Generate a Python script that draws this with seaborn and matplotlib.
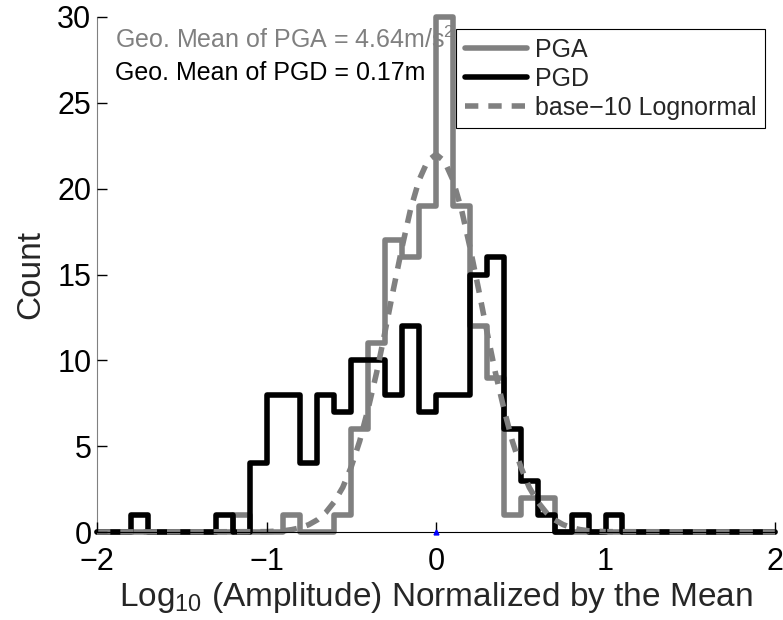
import numpy as np
import pandas as pd
import matplotlib
matplotlib.use('Agg')
import matplotlib.pyplot as plt
import seaborn as sns
from matplotlib.lines import Line2D

# bin edges (log10 amplitude / mean), 0.1 wide from -2 to 2
edges = [round(-2.0 + 0.1 * i, 2) for i in range(41)]
centers = [round(-1.95 + 0.1 * i, 3) for i in range(40)]

# counts per bin (40 bins)
pga_counts = [0, 0, 0, 0, 0, 0, 0, 0, 1, 0,
              0, 1, 0, 0, 1, 6, 11, 17, 16, 19,
              30, 19, 12, 9, 1, 2, 2, 0, 0, 0,
              0, 0, 0, 0, 0, 0, 0, 0, 0, 0]
pgd_counts = [0, 0, 1, 0, 0, 0, 0, 1, 0, 4,
              8, 8, 4, 8, 7, 10, 10, 8, 12, 7,
              8, 8, 15, 16, 6, 3, 1, 0, 1, 0,
              1, 0, 0, 0, 0, 0, 0, 0, 0, 0]

# dashed base-10 lognormal curve
fit_x = [-2.0, -1.0, -0.9, -0.85, -0.8, -0.75, -0.7, -0.65, -0.6, -0.55, -0.5,
         -0.45, -0.4, -0.35, -0.3, -0.25, -0.2, -0.15, -0.1, -0.05, 0.0,
         0.05, 0.1, 0.15, 0.2, 0.25, 0.3, 0.35, 0.4, 0.45, 0.5,
         0.55, 0.6, 0.65, 0.7, 0.75, 0.8, 0.85, 0.9, 1.0, 2.0]
fit_y = [0.0, 0.02, 0.07, 0.14, 0.25, 0.43, 0.71, 1.14, 1.76, 2.6, 3.8,
         5.3, 7.2, 9.3, 11.7, 14.2, 16.6, 18.8, 20.5, 21.6, 22.0,
         21.6, 20.5, 18.8, 16.6, 14.2, 11.7, 9.3, 7.2, 5.3, 3.8,
         2.6, 1.76, 1.14, 0.71, 0.43, 0.25, 0.14, 0.07, 0.02, 0.0]

labels = ['PGA', 'PGD', 'base\u221210 Lognormal']
txt_pga = 'Geo. Mean of PGA = 4.64m/s$^{2}$'
txt_pgd = 'Geo. Mean of PGD = 0.17m'

gray = '#808080'

sns.set_theme(style='white')
plt.rcParams.update({
    'font.family': ['Liberation Sans', 'DejaVu Sans'],
    'mathtext.fontset': 'custom',
    'mathtext.rm': 'Liberation Sans',
    'mathtext.it': 'Liberation Sans:italic',
    'mathtext.bf': 'Liberation Sans:bold',
    'xtick.bottom': True, 'ytick.left': True,
    'xtick.direction': 'in', 'ytick.direction': 'in',
    'xtick.major.size': 7, 'ytick.major.size': 7,
    'xtick.major.width': 1.0, 'ytick.major.width': 1.0,
    'xtick.color': 'black', 'ytick.color': 'black',
})

fig = plt.figure(figsize=(7.83, 6.2), dpi=100)
ax = fig.add_axes([97/783, 88/620, 678/783, 515/620])
ax.set_axisbelow(False)

df = pd.DataFrame({'x': centers, 'PGA': pga_counts, 'PGD': pgd_counts})

sns.histplot(x=df['x'], weights=df['PGA'], bins=edges, element='step', fill=False,
             color=gray, linewidth=4, ax=ax, clip_on=False)
sns.histplot(x=df['x'], weights=df['PGD'], bins=edges, element='step', fill=False,
             color='black', linewidth=4, ax=ax, clip_on=False)
sns.lineplot(x=fit_x, y=fit_y, color=gray, linewidth=4, linestyle=(0, (2.4, 1.8)),
             ax=ax, clip_on=False)
ax.plot([0], [0], marker='^', color='blue', markersize=3.5, clip_on=False, zorder=5)

ax.set_xlim(-2, 2)
ax.set_ylim(0, 30)
ax.set_xticks([-2, -1, 0, 1, 2])
ax.set_yticks([0, 5, 10, 15, 20, 25, 30])
ax.tick_params(labelsize=22, labelcolor='black')
ax.tick_params(axis='x', pad=11)
ax.tick_params(axis='y', pad=4)

for s in ['top', 'right']:
    ax.spines[s].set_visible(False)
ax.spines['left'].set_color(gray)
ax.spines['left'].set_linewidth(0.8)
ax.spines['bottom'].set_color('black')
ax.spines['bottom'].set_linewidth(0.8)

ax.set_xlabel('Log$_{\\mathrm{10}}$ (Amplitude) Normalized by the Mean', fontsize=24, labelpad=2)
ax.set_ylabel('Count', fontsize=24, labelpad=8)

ax.text(-1.894, 28.2, txt_pga, color=gray, fontsize=18, zorder=1)
ax.text(-1.894, 26.33, txt_pgd, color='black', fontsize=18, zorder=1)

handles = [Line2D([], [], color=gray, lw=4),
           Line2D([], [], color='black', lw=4),
           Line2D([], [], color=gray, lw=4, linestyle=(0, (2.4, 1.8)))]
leg = ax.legend(handles, labels, loc='upper right', bbox_to_anchor=(0.985, 0.977),
                borderaxespad=0, fontsize=18, frameon=True, fancybox=False,
                framealpha=1, edgecolor='black', handlelength=2.5,
                handletextpad=0.3, labelspacing=0.2, borderpad=0.35)
leg.get_frame().set_linewidth(0.8)

fig.savefig('out.png', dpi=100)
